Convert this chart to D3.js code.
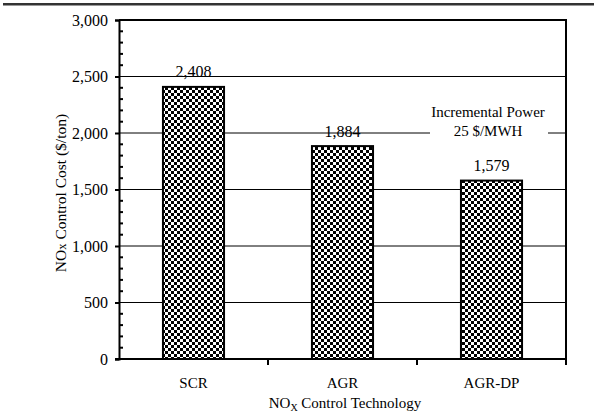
<!DOCTYPE html>
<html><head><meta charset="utf-8">
<script src="https://cdn.jsdelivr.net/npm/d3@7"></script>
<style>body{margin:0;background:#fff}svg{display:block}svg text{fill:#000}</style>
</head><body>
<svg id="c" width="597" height="415"></svg>
<script>
const categories = ["SCR", "AGR", "AGR-DP"];
const costs = [2408, 1884, 1579];
const valueLabels = ["2,408", "1,884", "1,579"];
const yTicks = [0, 500, 1000, 1500, 2000, 2500, 3000];
const annotation = ["Incremental Power", "25 $/MWH"];

const FONT = "'Liberation Serif','Times New Roman',serif";
const svg = d3.select("#c");
const L = 119, R = 566, T = 20, B = 359;
const x = d3.scaleBand().domain(categories).range([L, R]).padding(0);
const y = d3.scaleLinear().domain([0, 3000]).range([B, T]);

// top rule
svg.append("rect").attr("x", 3).attr("y", 3).attr("width", 591).attr("height", 2.5).attr("fill", "#333");

// checker pattern
const defs = svg.append("defs");
const P = 6, C = 3;
const pat = defs.append("pattern").attr("id", "chk").attr("patternUnits", "userSpaceOnUse")
  .attr("width", P).attr("height", P);
pat.append("rect").attr("width", P).attr("height", P).attr("fill", "#fff");
pat.append("rect").attr("width", C).attr("height", C).attr("fill", "#000");
pat.append("rect").attr("x", C).attr("y", C).attr("width", C).attr("height", C).attr("fill", "#000");

// gridlines
svg.append("g").selectAll("line").data(yTicks.filter(d => d > 0 && d < 3000)).join("line")
  .attr("x1", L).attr("x2", R).attr("y1", d => y(d)).attr("y2", d => y(d))
  .attr("stroke", "#000").attr("stroke-width", 1);

// annotation background & text
const ax = 488;
svg.append("rect").attr("x", 430).attr("y", y(2000) - 6).attr("width", 118).attr("height", 12).attr("fill", "#fff");
svg.append("g").selectAll("text").data(annotation).join("text")
  .attr("x", ax).attr("y", (d, i) => 117 + i * 18.5).attr("text-anchor", "middle")
  .attr("font-family", FONT).attr("font-size", 15).text(d => d);

// bars
const bw = x.bandwidth() * 0.41;
svg.append("g").selectAll("rect").data(costs).join("rect")
  .attr("x", (d, i) => x(categories[i]) + x.bandwidth() / 2 - bw / 2)
  .attr("y", d => y(d)).attr("width", bw).attr("height", d => B - y(d))
  .attr("fill", "url(#chk)").attr("stroke", "#000").attr("stroke-width", 2);

// value labels
svg.append("g").selectAll("text").data(costs).join("text")
  .attr("x", (d, i) => x(categories[i]) + x.bandwidth() / 2)
  .attr("y", d => y(d) - 9.5).attr("text-anchor", "middle")
  .attr("font-family", FONT).attr("font-size", 16)
  .text((d, i) => valueLabels[i]);

// frame: top and right
svg.append("line").attr("x1", L).attr("x2", R).attr("y1", T).attr("y2", T).attr("stroke", "#000").attr("stroke-width", 2);
svg.append("line").attr("x1", R).attr("x2", R).attr("y1", T - 1).attr("y2", B + 1).attr("stroke", "#000").attr("stroke-width", 2);

// y axis
const yAxis = d3.axisLeft(y).tickValues(yTicks).tickSize(4).tickPadding(7).tickFormat(d3.format(","));
const gy = svg.append("g").attr("transform", `translate(${L},0)`).call(yAxis)
  .attr("font-family", FONT).attr("font-size", 16);
gy.select(".domain").attr("stroke-width", 2);
gy.selectAll(".tick line").attr("stroke-width", 2);
gy.selectAll("text").attr("font-size", 16).attr("font-family", FONT);
// minor ticks inside
const minor = d3.range(100, 3000, 100).filter(d => d % 500 !== 0);
svg.append("g").selectAll("line").data(minor).join("line")
  .attr("x1", L).attr("x2", L + 4).attr("y1", d => y(d)).attr("y2", d => y(d))
  .attr("stroke", "#000").attr("stroke-width", 2);

// x axis
const gx = svg.append("g").attr("transform", `translate(0,${B})`);
gx.append("line").attr("x1", L - 4).attr("x2", R + 1).attr("stroke", "#000").attr("stroke-width", 2);
gx.selectAll("line.t").data(categories).join("line").attr("class", "t")
  .attr("x1", d => x(d) + x.bandwidth()).attr("x2", d => x(d) + x.bandwidth())
  .attr("y1", 0).attr("y2", 6).attr("stroke", "#000").attr("stroke-width", 2);
gx.selectAll("text").data(categories).join("text")
  .attr("x", d => x(d) + x.bandwidth() / 2).attr("y", 29).attr("text-anchor", "middle")
  .attr("font-family", FONT).attr("font-size", 15).text(d => d);

// x title
const xt = svg.append("text").attr("x", 345).attr("y", 408).attr("text-anchor", "middle")
  .attr("font-family", FONT).attr("font-size", 15);
xt.append("tspan").text("NO");
xt.append("tspan").attr("font-size", 10).attr("dy", 3).text("X");
xt.append("tspan").attr("dy", -3).text(" Control Technology");

// y title
const yt = svg.append("text").attr("transform", "translate(66,193) rotate(-90)").attr("text-anchor", "middle")
  .attr("font-family", FONT).attr("font-size", 15.5);
yt.append("tspan").text("NO");
yt.append("tspan").attr("font-size", 12.5).text("x");
yt.append("tspan").text(" Control Cost ($/ton)");
</script>
</body></html>
